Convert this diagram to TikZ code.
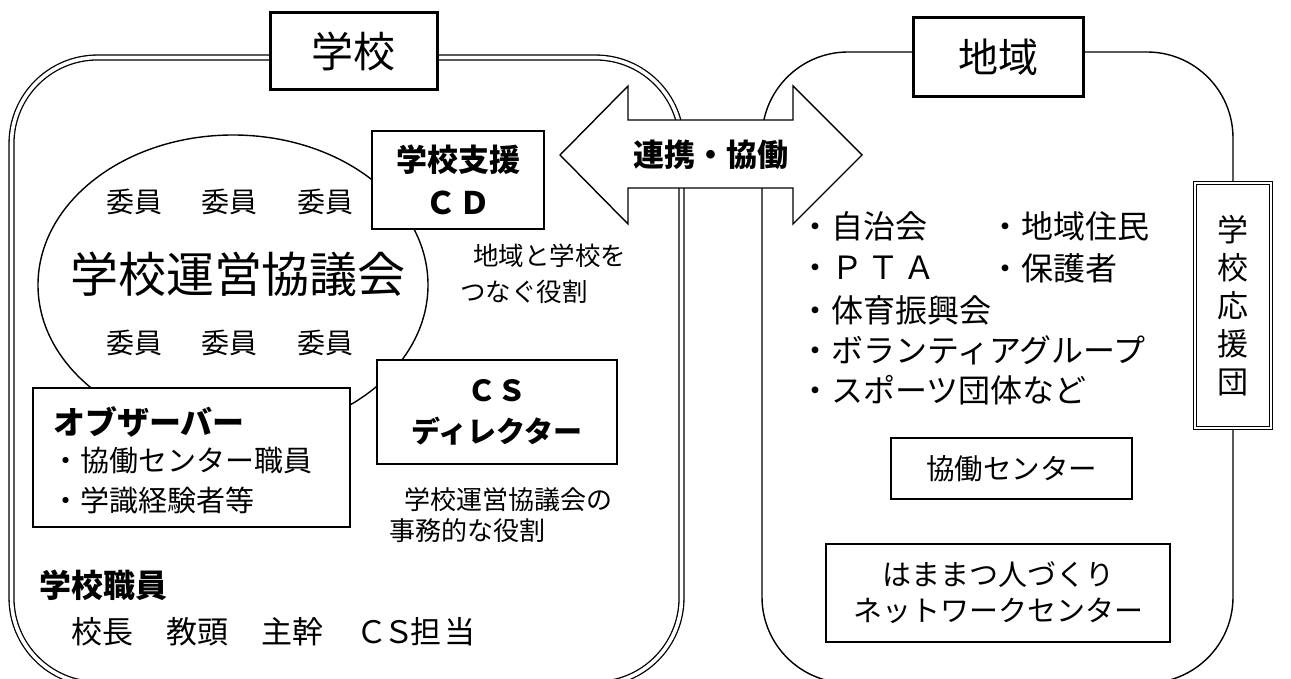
\documentclass[tikz,border=0pt]{standalone}
\usepackage{fontspec}
\setmainfont{Noto Sans CJK JP}
\usetikzlibrary{shapes.geometric}
\newcommand{\fs}[2]{\fontsize{#1}{#2}\selectfont}
\tikzset{
  frame/.style={draw, line width=1.4pt},
  box/.style={draw, line width=1.4pt, fill=white, inner sep=0pt},
  titlebox/.style={draw, line width=3pt, fill=white, inner sep=0pt},
  txt/.style={inner sep=0pt, align=left},
}
\begin{document}
\begin{tikzpicture}[x=1pt,y=-1pt]
\useasboundingbox (0,0) rectangle (1291,679);
% outer regions
\draw[double, double distance=3.6pt, line width=1.3pt, rounded corners=86pt] (11.5,57.5) rectangle (681.5,684);
\draw[frame, rounded corners=86pt] (762,52) rectangle (1233,683);
% council ellipse
\node[draw, ellipse, line width=1.4pt, minimum width=390pt, minimum height=300pt, inner sep=0pt] (council) at (233,285) {};
% boxes
\node[titlebox, minimum width=167pt, minimum height=77pt, font=\fs{42}{42}] (school) at (353.5,51.5) {学校};
\node[titlebox, minimum width=170pt, minimum height=79pt, font=\fs{40}{40}] (area) at (998,57) {地域};
\node[box, minimum width=172pt, minimum height=98pt, align=center, font=\fs{31}{43}\bfseries] (cd) at (458,180) {学校支援\\Ｃ\hspace{3pt}Ｄ};
\node[box, minimum width=240pt, minimum height=104pt, align=center, font=\fs{29}{41}\bfseries] (csd) at (497,412) {Ｃ\hspace{2pt}Ｓ\\ディレクター};
\node[box, minimum width=317pt, minimum height=139pt] (obs) at (191.5,457.5) {};
\node[box, minimum width=241pt, minimum height=61pt, font=\fs{28.5}{28}] (kyodo) at (1011.5,468.5) {協働センター};
\node[box, minimum width=344pt, minimum height=98pt, align=center, font=\fs{29}{36}] (hama) at (998,593) {はままつ人づくり\\ネットワークセンター};
\node[draw, double, double distance=2pt, line width=1pt, fill=white, minimum width=76pt, minimum height=244pt, inner sep=0pt, align=center, font=\fs{31}{38}] (ouen) at (1232.5,305.5) {学\\校\\応\\援\\団};
% double arrow
\draw[line width=1.4pt, fill=white] (560,155) -- (628,86) -- (628,120) -- (793,120) -- (793,86) -- (862,155) -- (793,224) -- (793,188) -- (628,188) -- (628,224) -- cycle;
\node[txt, font=\fs{31}{31}\bfseries] (renkei) at (711,155) {連携・協働};
% council texts
\node[txt, font=\fs{28}{28}] (iin1) at (230,202) {委員\hspace{40pt}委員\hspace{40pt}委員};
\node[txt, font=\fs{48}{48}] (kyogikai) at (238,274) {学校運営協議会};
\node[txt, font=\fs{28}{28}] (iin2) at (230,343) {委員\hspace{40pt}委員\hspace{40pt}委員};
% notes
\node[txt, anchor=north west, font=\fs{25.5}{36}] (note1) at (460,244) {\hspace{13pt}地域と学校を\\つなぐ役割};
\node[txt, anchor=north west, font=\fs{26}{31}] (note2) at (389,487) {\hspace{15pt}学校運営協議会の\\事務的な役割};
% observer
\node[txt, anchor=west, font=\fs{32}{32}\bfseries] (obst) at (53,422) {オブザーバー};
\node[txt, anchor=west, font=\fs{29}{29}] (obs1) at (51,461) {・協働センター職員};
\node[txt, anchor=west, font=\fs{29}{29}] (obs2) at (51,500) {・学識経験者等};
% staff
\node[txt, anchor=west, font=\fs{32}{32}\bfseries] (staff) at (39,585) {学校職員};
\node[txt, anchor=west, font=\fs{31}{31}] (staff2) at (71,632) {校長\hspace{33pt}教頭\hspace{33pt}主幹\hspace{33pt}Ｃ\hspace{-4pt}Ｓ\hspace{-4pt}担\hspace{3pt}当};
% area list
\node[txt, anchor=west, font=\fs{32}{32}] (l1) at (799,226) {・自治会};
\node[txt, anchor=west, font=\fs{32}{32}] (l1b) at (989,226) {・地域住民};
\node[txt, anchor=west, font=\fs{32}{32}] (l2) at (799,268) {・Ｐ\hspace{4pt}Ｔ\hspace{4pt}Ａ};
\node[txt, anchor=west, font=\fs{32}{32}] (l2b) at (989,268) {・保護者};
\node[txt, anchor=west, font=\fs{32}{32}] (l3) at (799,310) {・体育振興会};
\node[txt, anchor=west, font=\fs{32}{32}] (l4) at (799,350) {・ボランティアグループ};
\node[txt, anchor=west, font=\fs{32}{32}] (l5) at (799,390) {・スポーツ団体など};
\end{tikzpicture}
\end{document}
